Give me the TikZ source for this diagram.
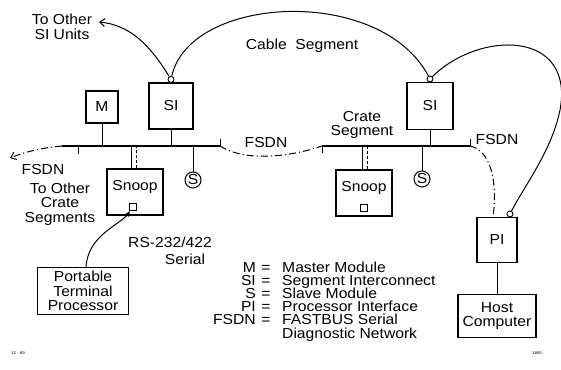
\documentclass[tikz,border=0pt]{standalone}
\usepackage{fontspec}
\setmainfont{Liberation Sans}[FakeStretch=1.08]
\usetikzlibrary{arrows.meta}
\tikzset{
	modbox/.style ={rectangle, draw=black, line width=1.1pt, inner sep=0pt, align=center},
	slv/.style    ={circle, draw=black, line width=1pt, minimum size=16pt, inner sep=0pt},
	plug/.style   ={circle, draw=black, line width=0.9pt, fill=white, minimum size=6pt, inner sep=0pt},
	port/.style   ={rectangle, draw=black, line width=1pt, minimum size=7pt, inner sep=0pt},
	bus/.style    ={line width=1.1pt},
	stub/.style   ={line width=1pt},
	fsdn/.style   ={line width=1pt, dash pattern=on 7pt off 3pt on 1.2pt off 3pt},
	cable/.style  ={line width=1pt},
	lbl/.style    ={inner sep=0pt, align=center},
	barb/.style   ={-{Straight Barb[length=5pt, width=8pt]}},
}
\begin{document}
\begin{tikzpicture}[x=1pt, y=-1pt, every node/.style={font=\fontsize{14.5}{14.5}\selectfont}]
\useasboundingbox (0,0) rectangle (561,369);
% left crate segment
\coordinate (busAw) at (62,146);
\coordinate (busAe) at (220,146);
\node[modbox, minimum width=32pt, minimum height=32pt] (m) at (102,107) {M};
\node[modbox, minimum width=44pt, minimum height=46pt] (sia) at (171,106) {SI};
\node[modbox, minimum width=56pt, minimum height=46pt] (snpa) at (135,192) {};
\node[lbl] (snpatxt) at (135,187) {Snoop};
\node[port] (prta) at (133,207) {};
\node[slv] (sa) at (193,180) {S};
\draw[bus] (busAw) -- (busAe);
\draw[stub] (78,146) -- (78,154);
\draw[stub] (busAe) -- ++(0,-7);
\draw[stub] (m.south) -- (m.south |- busAw);
\draw[stub] (sia.south) -- (sia.south |- busAw);
\draw[stub] (sa.north) -- (sa.north |- busAw);
\draw[stub] ([xshift=-4pt]snpa.north) -- ([xshift=-4pt]snpa.north |- busAw);
\draw[stub, dash pattern=on 3pt off 2pt] ([xshift=1pt]snpa.north) -- ([xshift=1pt]snpa.north |- busAw);
% right crate segment
\coordinate (busBw) at (322,146);
\coordinate (busBe) at (470,146);
\node[modbox, minimum width=46pt, minimum height=47pt] (sib) at (430,106) {SI};
\node[modbox, minimum width=56pt, minimum height=46pt] (snpb) at (364,193) {};
\node[lbl] (snpbtxt) at (364,188) {Snoop};
\node[port] (prtb) at (364,208) {};
\node[slv] (sb) at (422,179) {S};
\draw[bus] (busBw) -- (busBe);
\draw[stub] (busBw) -- ++(0,7);
\draw[stub] (busBe) -- ++(0,-7);
\draw[stub] (sib.south) -- (sib.south |- busBw);
\draw[stub] (sb.north) -- (sb.north |- busBw);
\draw[stub] ([xshift=-2pt]snpb.north) -- ([xshift=-2pt]snpb.north |- busBw);
\draw[stub, dash pattern=on 3pt off 2pt] ([xshift=3pt]snpb.north) -- ([xshift=3pt]snpb.north |- busBw);
\node[lbl] (crseg) at (362,125) {Crate\\Segment};
% processor interface and host
\node[modbox, minimum width=40pt, minimum height=45pt] (pi) at (497,240) {PI};
\node[modbox, minimum width=78pt, minimum height=43pt] (host) at (497,316) {Host\\Computer};
\draw[stub] (pi) -- (host);
% cable segment
\node[plug] (pga) at ([yshift=3pt]sia.north) {};
\node[plug] (pgb) at ([yshift=3pt]sib.north) {};
\node[plug] (pgc) at ([xshift=13pt, yshift=3pt]pi.north) {};
\draw[cable] (pga) .. controls (190,-5) and (380,-15) .. (pgb);
\draw[cable] (pgb) .. controls (480,30) and (575,30) .. (560,110) .. controls (552,150) and (525,185) .. (pgc);
\coordinate (tosi) at (99,22);
\draw[cable, barb] (pga) .. controls (150,45) and (130,25) .. (tosi);
\node[lbl] (tosiTxt) at (62,27) {To Other\\SI Units};
\node[lbl] (cabseg) at (302,46) {Cable\ \ Segment};
% diagnostic network
\coordinate (fsdnW) at (10,158);
\draw[fsdn, barb] (busAw) .. controls (40,148) and (25,152) .. (fsdnW);
\draw[fsdn] (busAe) .. controls (245,162) and (290,157) .. (busBw);
\draw[fsdn] (busBe) .. controls (490,150) and (498,180) .. ([xshift=-4pt]pi.north);
\node[lbl] (fsdnA) at (43,170) {FSDN};
\node[lbl] (fsdnB) at (266,143) {FSDN};
\node[lbl] (fsdnC) at (497,140) {FSDN};
\node[lbl] (tocrate) at (60,204) {To Other\\Crate\\Segments};
% terminal
\node[modbox, minimum width=91pt, minimum height=47pt] (ptp) at (83,291) {Portable\\Terminal\\Processor};
\draw[cable, -{Stealth[length=6pt]}] ([xshift=3pt]ptp.north) .. controls (88,235) and (120,225) .. (prta);
\node[lbl] (rs) at (170,242) {RS-232/422};
\node[lbl] (serial) at (185,259) {Serial};
% legend
\node[lbl, anchor=base east] (lgm) at (256,272) {M};
\node[lbl, anchor=base east] (lgsi) at (256,285) {SI};
\node[lbl, anchor=base east] (lgs) at (256,298) {S};
\node[lbl, anchor=base east] (lgpi) at (256,311) {PI};
\node[lbl, anchor=base east] (lgfsdn) at (256,324) {FSDN};
\node[lbl, anchor=base] (eqm) at (266,272) {=};
\node[lbl, anchor=base] (eqsi) at (266,285) {=};
\node[lbl, anchor=base] (eqs) at (266,298) {=};
\node[lbl, anchor=base] (eqpi) at (266,311) {=};
\node[lbl, anchor=base] (eqfsdn) at (266,324) {=};
\node[lbl, anchor=base west] (dsm) at (282,272) {Master Module};
\node[lbl, anchor=base west] (dssi) at (282,285) {Segment Interconnect};
\node[lbl, anchor=base west] (dss) at (282,298) {Slave Module};
\node[lbl, anchor=base west] (dspi) at (282,311) {Processor Interface};
\node[lbl, anchor=base west] (dsfsdn) at (282,324) {FASTBUS Serial};
\node[lbl, anchor=base west] (dsfsdn2) at (282,338.5) {Diagnostic Network};
% figure numbers
\node[lbl, font=\fontsize{4}{4}\selectfont] (fignum) at (18,353) {12 - 89};
\node[lbl, font=\fontsize{4}{4}\selectfont] (figid) at (537,353) {1865};
\end{tikzpicture}
\end{document}
